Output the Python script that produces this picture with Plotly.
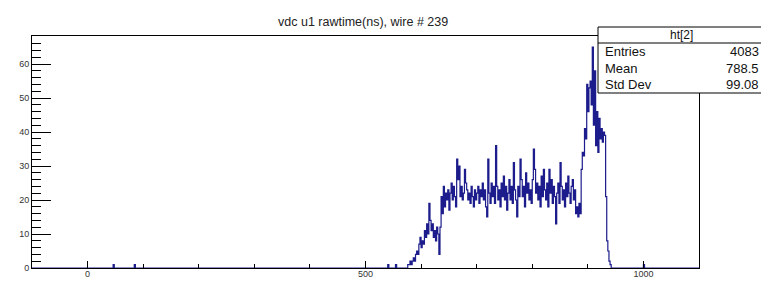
import numpy as np
import plotly.graph_objects as go

# ---------------- data ----------------
title_text = "vdc u1 rawtime(ns), wire # 239"
hist_name = "ht[2]"
stats_labels = ["Entries", "Mean", "Std Dev"]
stats_values = ["4083", "788.5", "99.08"]

x_min, x_max, bin_width = -100, 1100, 2

# isolated single-count bins (bin low edges)
sparse_bins = [46, 84, 540, 554, 1000]
sparse_counts = [1, 1, 1, 1, 1]

# main bump: counts for consecutive bins starting at main_start
main_start = 572
main_counts = [
    0, 0, 1, 1, 2, 1, 2, 3, 2, 4,            # 572-590
    5, 4, 7, 9, 6, 8, 7, 11, 9, 13,          # 592-610
    10, 19, 14, 11, 13, 9, 11, 8, 12, 10,    # 612-630
    4, 12, 21, 16, 24, 18, 22, 20, 23, 17,   # 632-650
    22, 25, 20, 24, 21, 18, 32, 26, 30, 21,  # 652-670
    24, 20, 22, 29, 25, 23, 20, 22, 19, 24,  # 672-690
    21, 18, 23, 20, 22, 24, 19, 23, 21, 25,  # 692-710
    20, 23, 18, 15, 32, 22, 19, 25, 21, 24,  # 712-730
    19, 36, 24, 20, 23, 18, 25, 21, 27, 20,  # 732-750
    24, 17, 22, 26, 20, 24, 19, 31, 23, 20,  # 752-770
    15, 24, 21, 32, 26, 21, 24, 18, 28, 22,  # 772-790
    25, 20, 23, 19, 26, 35, 29, 22, 25, 20,  # 792-810
    24, 18, 27, 21, 29, 23, 20, 25, 18, 29,  # 812-830
    22, 26, 19, 24, 21, 13, 22, 25, 19, 31,  # 832-850
    24, 20, 23, 18, 25, 21, 27, 22, 19, 24,  # 852-870
    26, 20, 23, 16, 18, 15, 19, 16, 29, 34,  # 872-890
    33, 41, 38, 54, 46, 53, 55, 48, 65, 42,  # 892-910
    58, 36, 46, 34, 44, 38, 41, 37, 40, 39,  # 912-930
    21, 8, 5, 2, 1, 0,                       # 932-942
]

y_max = 68.25
x_tick_major, x_tick_minor = 500, 100
y_tick_major, y_tick_minor = 10, 2

# ---------------- histogram ----------------
n_bins = int((x_max - x_min) / bin_width)
edges = x_min + bin_width * np.arange(n_bins + 1)
counts = np.zeros(n_bins)
for b, c in zip(sparse_bins, sparse_counts):
    counts[int((b - x_min) / bin_width)] += c
i0 = int((main_start - x_min) / bin_width)
for k, c in enumerate(main_counts):
    counts[i0 + k] += c

step_y = np.append(counts, counts[-1])

fig = go.Figure()
fig.add_trace(go.Scatter(
    x=edges, y=step_y, mode="lines", line_shape="hv",
    line=dict(color="#1c1c8c", width=1.2), hoverinfo="skip",
    showlegend=False,
))

# ---------------- layout ----------------
# page is rendered with the browser's default 8px body margin
OFF = 8
W, H = 769, 282
WF, HF = W - OFF, H - OFF
# plot area in page pixels
L, R, T, B = 32, 699, 36, 268
PW, PH = R - L, B - T


def px(xp):
    return (xp - L) / PW


def py(yp):
    return (B - yp) / PH


FONT = "Liberation Sans, Arial, Helvetica, sans-serif"

fig.update_layout(
    width=WF, height=HF,
    margin=dict(l=L - OFF, r=WF - (R - OFF), t=T - OFF, b=HF - (B - OFF),
                autoexpand=False),
    paper_bgcolor="white", plot_bgcolor="white",
    font=dict(family=FONT, color="#222"),
    showlegend=False,
)
fig.update_xaxes(
    range=[x_min, x_max], showgrid=False, zeroline=False,
    showline=True, mirror=True, linecolor="black", linewidth=1,
    ticks="inside", ticklen=7, tickcolor="black", tickwidth=1,
    tick0=0, dtick=x_tick_major,
    minor=dict(ticks="inside", ticklen=4, dtick=x_tick_minor, tick0=0,
               tickcolor="black", showgrid=False),
    tickfont=dict(size=9, color="#333"),
    ticklabelstandoff=-3,
    layer="above traces",
)
fig.update_yaxes(
    range=[0, y_max], showgrid=False, zeroline=False,
    showline=True, mirror=True, linecolor="black", linewidth=1,
    ticks="inside", ticklen=19, tickcolor="black", tickwidth=1,
    tick0=0, dtick=y_tick_major,
    minor=dict(ticks="inside", ticklen=9, dtick=y_tick_minor, tick0=0,
               tickcolor="black", showgrid=False),
    tickfont=dict(size=9, color="#333"),
    layer="above traces",
)

# title
fig.add_annotation(
    x=px(363), y=py(22), xref="paper", yref="paper",
    text=title_text, showarrow=False,
    font=dict(size=12.5, color="#222", family=FONT),
    xanchor="center", yanchor="middle",
)

# stats box
bx0, bx1, by0, by1, bsep = 598, 765, 27, 93, 43
fig.add_shape(type="rect", xref="paper", yref="paper",
              x0=px(bx0), x1=px(bx1), y0=py(by1), y1=py(by0),
              line=dict(color="black", width=1), fillcolor="white",
              layer="above")
fig.add_shape(type="line", xref="paper", yref="paper",
              x0=px(bx0), x1=px(bx1), y0=py(bsep), y1=py(bsep),
              line=dict(color="black", width=1), layer="above")
fig.add_annotation(
    x=px((bx0 + bx1) / 2), y=py(35), xref="paper", yref="paper",
    text=hist_name, showarrow=False,
    font=dict(size=12, color="#111", family=FONT),
    xanchor="center", yanchor="middle",
)
row_y = [51.5, 68.5, 85]
for lab, val, ry in zip(stats_labels, stats_values, row_y):
    fig.add_annotation(
        x=px(bx0 + 5), y=py(ry), xref="paper", yref="paper",
        text=lab, showarrow=False,
        font=dict(size=13, color="#111", family=FONT),
        xanchor="left", yanchor="middle",
    )
    fig.add_annotation(
        x=px(bx1 - 4), y=py(ry), xref="paper", yref="paper",
        text=val, showarrow=False,
        font=dict(size=13, color="#111", family=FONT),
        xanchor="right", yanchor="middle",
    )

fig.write_html("out.html")
